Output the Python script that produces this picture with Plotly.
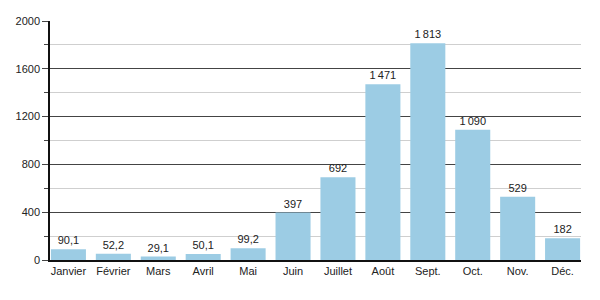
import plotly.graph_objects as go

months = ["Janvier", "Février", "Mars", "Avril", "Mai", "Juin", "Juillet", "Août", "Sept.", "Oct.", "Nov.", "Déc."]
values = [90.1, 52.2, 29.1, 50.1, 99.2, 397, 692, 1471, 1813, 1090, 529, 182]
labels = ["90,1", "52,2", "29,1", "50,1", "99,2", "397", "692", "1\u2009471", "1\u2009813", "1\u2009090", "529", "182"]
yticks = [0, 400, 800, 1200, 1600, 2000]

fig = go.Figure(go.Bar(
    x=months, y=values, text=labels, textposition="outside",
    marker=dict(color="#9ccce4", line=dict(width=0)),
    textfont=dict(size=11, color="#222", family="Liberation Sans, Arial, sans-serif"),
    cliponaxis=False,
))
fig.update_layout(
    width=600, height=300,
    margin=dict(l=50, r=19, t=21, b=40),
    paper_bgcolor="white", plot_bgcolor="white",
    font=dict(family="Liberation Sans, Arial, sans-serif", size=11, color="#222"),
    bargap=0.22, showlegend=False,
    xaxis=dict(range=[-0.41, 11.41], showline=True, linecolor="#111", linewidth=1.5, ticks="", tickfont=dict(size=11)),
    yaxis=dict(range=[0, 2000], tickvals=yticks, ticktext=[str(v) for v in yticks],
               showgrid=True, gridcolor="#444", gridwidth=1,
               showline=True, linecolor="#111", linewidth=1.5,
               ticks="outside", ticklen=6, tickcolor="#444",
               zeroline=False,
               minor=dict(dtick=200, showgrid=True, gridcolor="#cfcfcf", ticks="outside", ticklen=4, tickcolor="#444"),
               tickfont=dict(size=11)),
)
fig.write_html("out.html")
